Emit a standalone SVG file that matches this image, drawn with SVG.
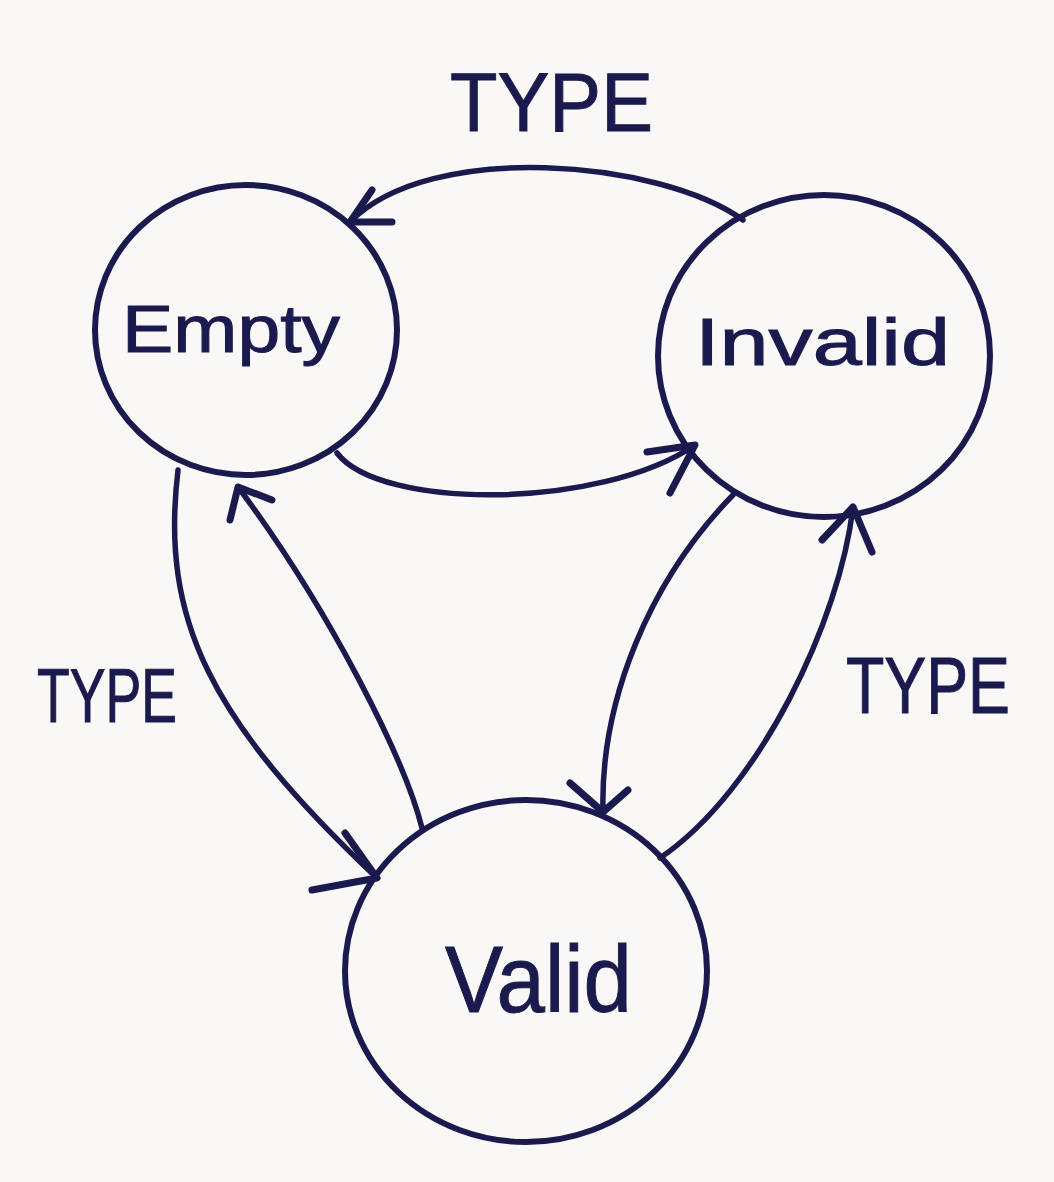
<svg xmlns="http://www.w3.org/2000/svg" width="1054" height="1182" viewBox="0 0 1054 1182">
<style>
.node{fill:none;stroke:#1a1a4e;stroke-width:6}
.edge{fill:none;stroke:#1a1a4e;stroke-width:5.5;stroke-linecap:round;stroke-linejoin:round}
.head{fill:none;stroke:#1a1a4e;stroke-width:7;stroke-linecap:round;stroke-linejoin:round}
.lbl{font-family:"Liberation Sans","DejaVu Sans",sans-serif;fill:#1a1a4e;stroke:#1a1a4e;stroke-width:1}
</style>
<rect width="1054" height="1182" fill="#faf8f6"/>
<g id="connectors">
  <g id="e-invalid-empty">
    <path class="edge" d="M743,220 C660,160 430,140 350,222"/>
    <path class="head" d="M372,190 L350,222 L392,222"/>
  </g>
  <g id="e-empty-invalid">
    <path class="edge" d="M337,453 C380,510 600,510 695,445"/>
    <path class="head" d="M647,452 L695,445 L670,493"/>
  </g>
  <g id="e-empty-valid">
    <path class="edge" d="M178,470 C160,620 210,720 377,878"/>
    <path class="head" d="M345,833 L377,878 L312,890"/>
  </g>
  <g id="e-valid-empty">
    <path class="edge" d="M422,828 C405,760 330,610 238,487"/>
    <path class="head" d="M230,520 L238,487 L272,500"/>
  </g>
  <g id="e-invalid-valid">
    <path class="edge" d="M733,495 C650,580 600,700 603,812"/>
    <path class="head" d="M570,783 L603,812 L628,790"/>
  </g>
  <g id="e-valid-invalid">
    <path class="edge" d="M660,858 C760,790 840,620 853,507"/>
    <path class="head" d="M822,540 L853,507 L872,552"/>
  </g>
  <text class="lbl" x="450" y="131" font-size="84" textLength="203" lengthAdjust="spacingAndGlyphs">TYPE</text>
  <text class="lbl" x="37" y="722" font-size="76" textLength="140" lengthAdjust="spacingAndGlyphs">TYPE</text>
  <text class="lbl" x="846" y="713" font-size="79" textLength="164" lengthAdjust="spacingAndGlyphs">TYPE</text>
</g>
<g id="node-empty">
  <ellipse class="node" cx="246" cy="330" rx="151" ry="145"/>
  <text class="lbl" x="122" y="352" font-size="66" textLength="218" lengthAdjust="spacingAndGlyphs">Empty</text>
</g>
<g id="node-invalid">
  <ellipse class="node" cx="824" cy="356" rx="166" ry="161"/>
  <text class="lbl" x="695" y="365" font-size="66" textLength="255" lengthAdjust="spacingAndGlyphs">Invalid</text>
</g>
<g id="node-valid">
  <ellipse class="node" cx="526" cy="971" rx="181" ry="171"/>
  <text class="lbl" x="445" y="1012" font-size="94" textLength="187" lengthAdjust="spacingAndGlyphs">Valid</text>
</g>
</svg>
